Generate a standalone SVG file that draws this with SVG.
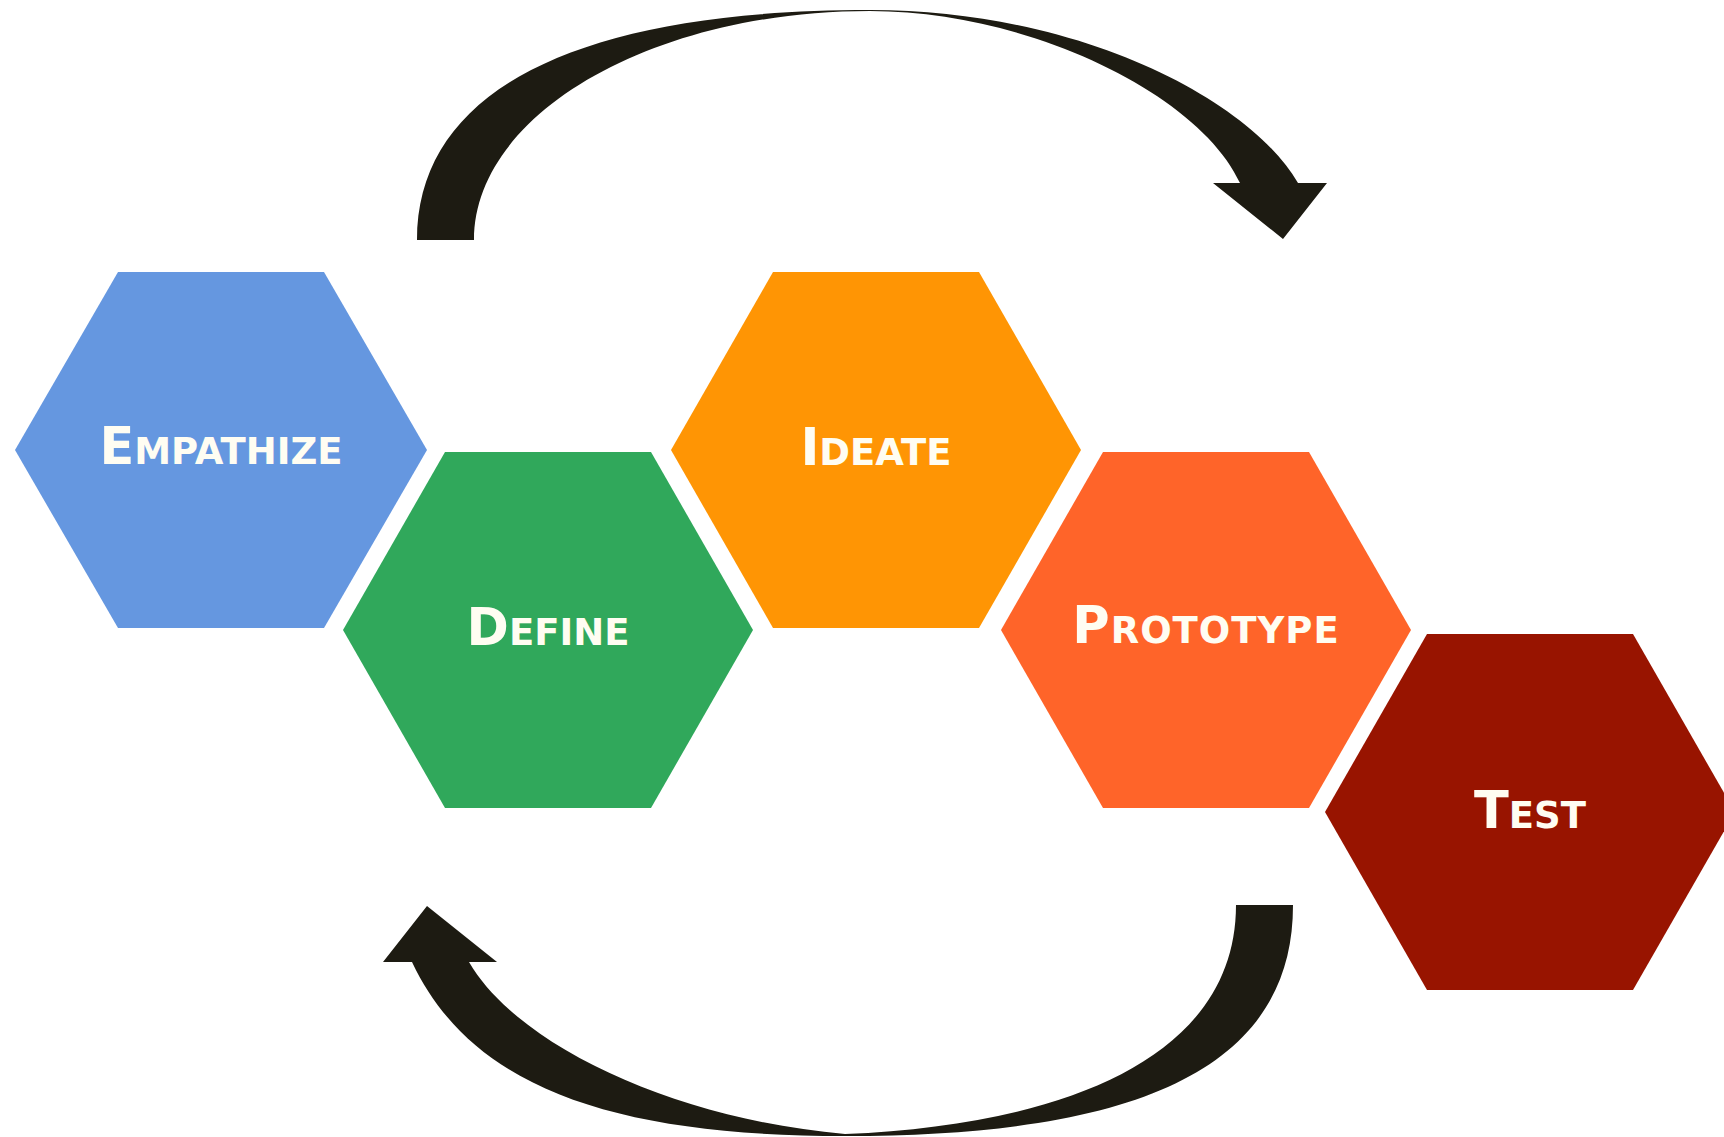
<svg xmlns="http://www.w3.org/2000/svg" width="1724" height="1137" viewBox="0 0 1724 1137">
<style>
.hex{stroke:none}
.lbl{font-family:"DejaVu Sans","Liberation Sans",Arial,sans-serif;font-weight:700;fill:#FFFDF2;text-anchor:middle}
.big{font-size:51px}
.sm{font-size:37px}
.arrow{fill:#1d1b12}
</style>
<rect width="1724" height="1137" fill="#ffffff"/>
<g id="connectors">
<path id="arrow-top" class="arrow" d="M417,240 C417,90.5 576,10 870,10 C1080,10 1250,100 1298,183 L1327,183 L1283,239 L1213,183 L1240,183 C1200,95 1030,11 870,11 C652,11 474,114 474,240 Z"/>
<path id="arrow-bottom" class="arrow" d="M1293,905 C1293,1065 1145,1136 845,1136 C615,1136 472,1089 412,962 L383,962 L427,906 L497,962 L469,962 C519,1048 680,1120 845,1134 C1060,1125 1236,1060 1236,905 Z"/>
</g>
<g id="empathize">
<polygon class="hex" fill="#6597E0" points="15,450 118,272 324,272 427,450 324,628 118,628"/>
<text class="lbl" x="221" y="464"><tspan class="big">E</tspan><tspan class="sm">MPATHIZE</tspan></text>
</g>
<g id="define">
<polygon class="hex" fill="#30A85B" points="343,630 445,452 651,452 753,630 651,808 445,808"/>
<text class="lbl" x="548" y="645"><tspan class="big">D</tspan><tspan class="sm">EFINE</tspan></text>
</g>
<g id="ideate">
<polygon class="hex" fill="#FF9504" points="671,450 773,272 979,272 1081,450 979,628 773,628"/>
<text class="lbl" x="876" y="465"><tspan class="big">I</tspan><tspan class="sm">DEATE</tspan></text>
</g>
<g id="prototype">
<polygon class="hex" fill="#FF6429" points="1001,630 1103,452 1309,452 1411,630 1309,808 1103,808"/>
<text class="lbl" x="1206" y="643" letter-spacing="1"><tspan class="big">P</tspan><tspan class="sm">ROTOTYPE</tspan></text>
</g>
<g id="test">
<polygon class="hex" fill="#981400" points="1325,812 1427,634 1633,634 1735,812 1633,990 1427,990"/>
<text class="lbl" x="1530" y="828"><tspan class="big">T</tspan><tspan class="sm">EST</tspan></text>
</g>
</svg>
